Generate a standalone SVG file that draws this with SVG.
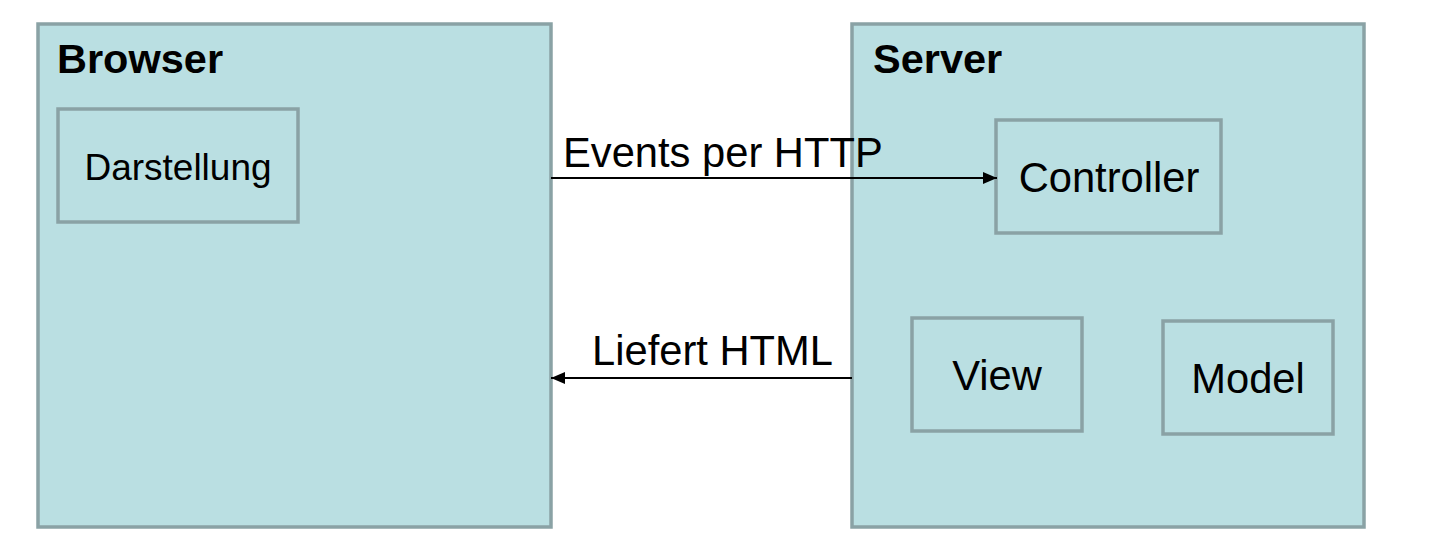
<svg xmlns="http://www.w3.org/2000/svg" width="1435" height="540" viewBox="0 0 1435 540">
<style>
.box{fill:#badfe2;stroke:#8aa2a5;stroke-width:3.5}
.t{font-family:"Liberation Sans",Arial,sans-serif;fill:#000}
.title{font-size:41.5px;font-weight:bold}
.lbl{font-size:41.7px}
.conn{stroke:#000;stroke-width:2;fill:none}
</style>
<defs>
<marker id="arr" markerWidth="14" markerHeight="12" refX="14" refY="6" orient="auto" markerUnits="userSpaceOnUse">
<path d="M0,0 L14,6 L0,12 Z" fill="#000"/>
</marker>
</defs>
<rect width="1435" height="540" fill="#fff"/>
<g id="browser">
<rect class="box" x="38" y="24" width="513" height="503"/>
<text class="t title" x="57" y="73">Browser</text>
</g>
<g id="server">
<rect class="box" x="852" y="24" width="512" height="503"/>
<text class="t title" x="873" y="73">Server</text>
</g>
<g id="darstellung">
<rect class="box" x="58" y="109" width="240" height="113"/>
<text class="t lbl" x="178" y="180" text-anchor="middle" style="font-size:37px">Darstellung</text>
</g>
<g id="controller">
<rect class="box" x="996" y="120" width="225" height="113"/>
<text class="t lbl" x="1109" y="192" text-anchor="middle">Controller</text>
</g>
<g id="view">
<rect class="box" x="912" y="318" width="170" height="113"/>
<text class="t lbl" x="997" y="390" text-anchor="middle">View</text>
</g>
<g id="model">
<rect class="box" x="1163" y="321" width="170" height="113"/>
<text class="t lbl" x="1248" y="393" text-anchor="middle">Model</text>
</g>
<g id="connectors">
<line class="conn" x1="551" y1="178" x2="997" y2="178" marker-end="url(#arr)"/>
<text class="t lbl" x="563" y="167">Events per HTTP</text>
<line class="conn" x1="852" y1="378" x2="551" y2="378" marker-end="url(#arr)"/>
<text class="t lbl" x="592" y="365">Liefert HTML</text>
</g>
</svg>
